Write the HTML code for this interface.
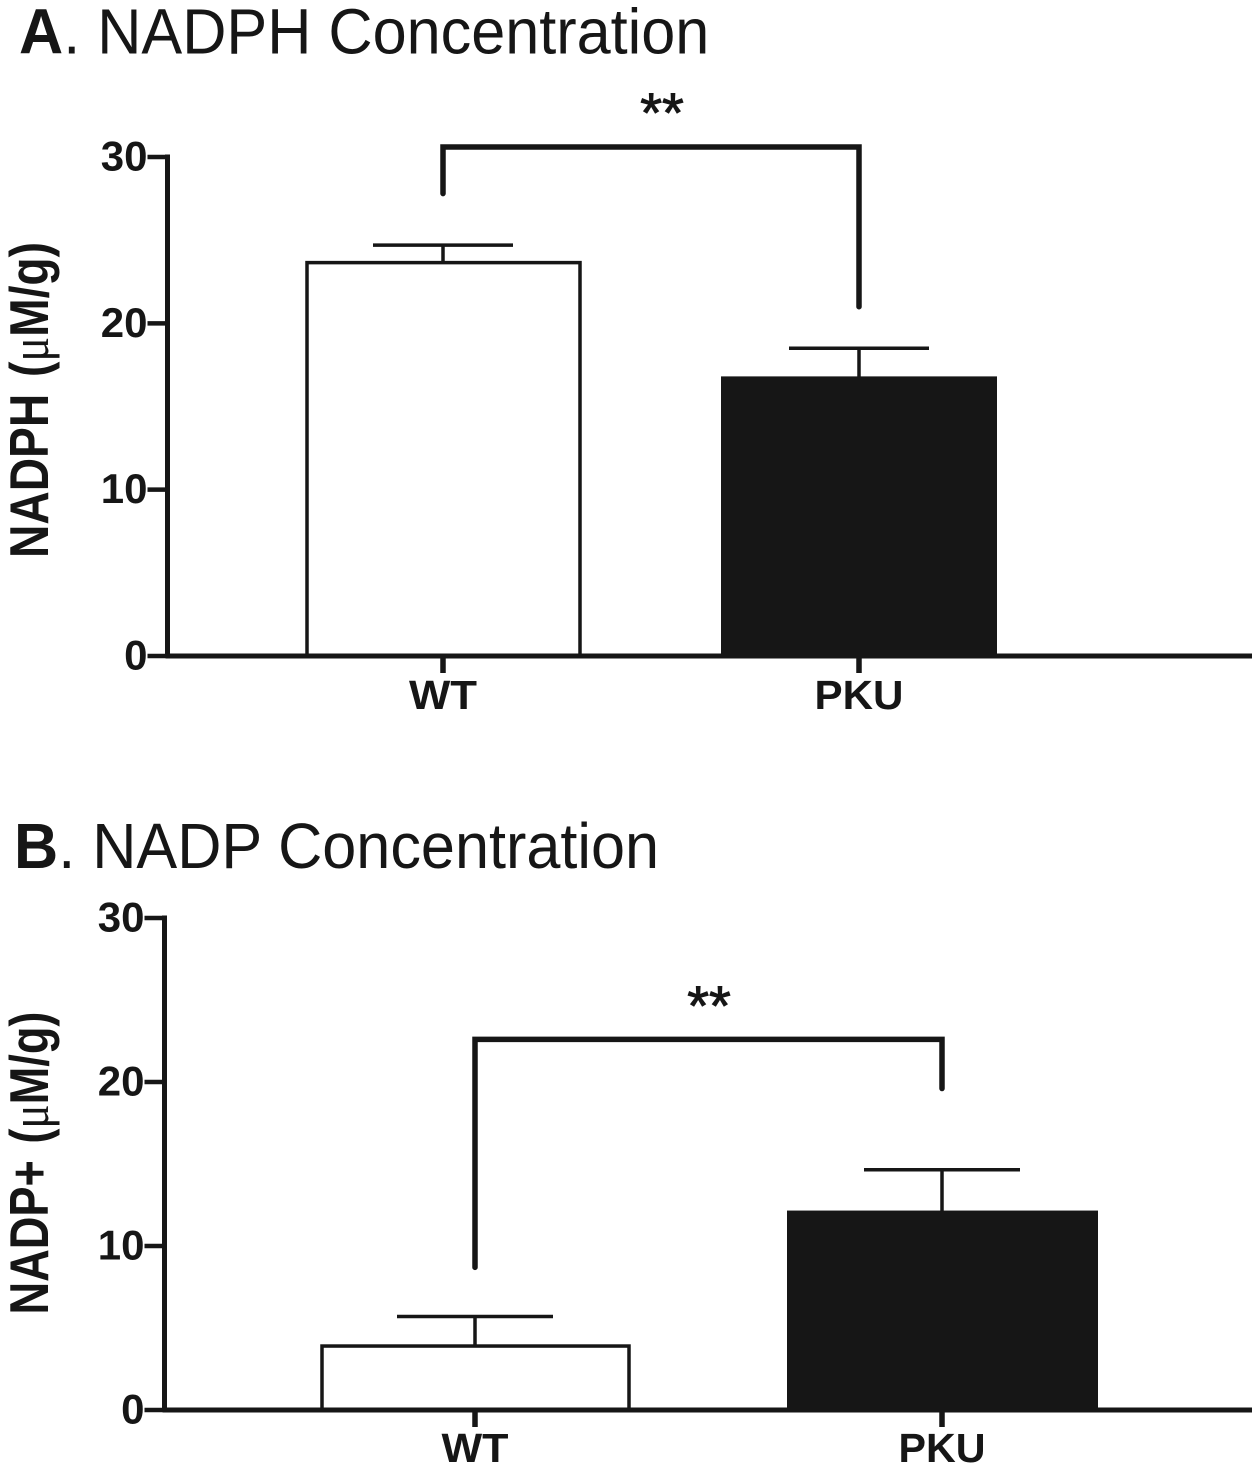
<!DOCTYPE html>
<html>
<head>
<meta charset="utf-8">
<style>
html,body{margin:0;padding:0;background:#fff;}
svg{display:block;}
text{font-family:"Liberation Sans",sans-serif;fill:#161616;}
.t{font-weight:bold;font-size:42px;}
.c{font-weight:bold;font-size:41px;}
.title{font-size:61.2px;}
.ax{font-weight:bold;font-size:46px;word-spacing:4px;}
.mu{font-family:"Liberation Serif",serif;font-weight:normal;}
.stars{font-weight:normal;font-size:56px;stroke:#161616;stroke-width:1;}
</style>
</head>
<body>
<svg id="chart" width="1260" height="1470" viewBox="0 0 1260 1470" xmlns="http://www.w3.org/2000/svg">
<text transform="translate(19 53.5) scale(1 1.04)" class="title"><tspan font-weight="bold">A</tspan>. NADPH Concentration</text>
<text transform="translate(14 868) scale(1 1.04)" class="title"><tspan font-weight="bold">B</tspan>. NADP Concentration</text>
<g id="panelA"></g>
<g id="panelB"></g>
</svg>
<script>
const categories = ['WT', 'PKU'];
const tickLabels = [0, 10, 20, 30];
const nadphMeans = [23.65, 16.75];
const nadphErrors = [1.05, 1.75];
const nadpMeans = [3.9, 12.1];
const nadpErrors = [1.8, 2.55];
const nadphBracket = [27.8, 30.6, 21.0];
const nadpBracket = [8.7, 22.6, 19.6];
const NS = 'http://www.w3.org/2000/svg';
const ink = '#161616';
function mk(parent, tag, attrs, txt) {
  const e = document.createElementNS(NS, tag);
  for (const k in attrs) e.setAttribute(k, attrs[k]);
  if (txt !== undefined) e.textContent = txt;
  parent.appendChild(e);
  return e;
}
function draw(parent, cfg) {
  const y = v => cfg.y0 + (cfg.y30 - cfg.y0) * v / 30;
  cfg.means.forEach((m, i) => {
    const b = cfg.bars[i];
    const cx = cfg.centers[i];
    const err = mk(parent, 'path', {d: `M${cx} ${y(m)}V${y(m + cfg.errs[i])}M${cx - cfg.cap} ${y(m + cfg.errs[i])}H${cx + cfg.cap}`, stroke: ink, 'stroke-width': 3.5, fill: 'none'});
    
    
    const r = mk(parent, 'rect', {x: b[0], y: y(m), width: b[1] - b[0], height: cfg.y0 - y(m), fill: i ? ink : '#fff', stroke: ink, 'stroke-width': i ? 2 : 3.5});
    
    
    const l = mk(parent, 'text', {x: cfg.labelX[i], y: cfg.labelY, 'text-anchor': 'middle', class: 'c', textLength: cfg.labelLen[i], lengthAdjust: 'spacingAndGlyphs'}, categories[i]);
    
    
  });
  const axis = mk(parent, 'path', {d: `M${cfg.ax} ${y(30) - 2.5}V${cfg.y0}M${cfg.ax - 2} ${cfg.y0}H1252`, stroke: ink, 'stroke-width': 5, fill: 'none'});
  
  
  tickLabels.forEach(v => {
    const t = mk(parent, 'line', {x1: cfg.ax - 20, x2: cfg.ax, y1: y(v), y2: y(v), stroke: ink, 'stroke-width': 4.5});
    
    
    const l = mk(parent, 'text', {x: cfg.ax - 20, y: y(v) + 13.5, 'text-anchor': 'end', class: 't'}, v);
    
    
  });
  cfg.centers.forEach((cx, i) => {
    const t = mk(parent, 'line', {x1: cx, x2: cx, y1: cfg.y0, y2: cfg.y0 + 17, stroke: ink, 'stroke-width': 5.5});
    
    
  });
  const c = cfg.centers;
  const br = mk(parent, 'path', {d: `M${c[0]} ${y(cfg.bracket[0])}V${y(cfg.bracket[1])}H${c[1]}V${y(cfg.bracket[2])}`, stroke: ink, 'stroke-width': 5.5, fill: 'none', 'stroke-linecap': 'round', 'stroke-linejoin': 'miter'});
  
  
  const s = mk(parent, 'text', {x: cfg.starX, y: cfg.starY, 'text-anchor': 'middle', class: 'stars'}, '**');
  
  
  const yt = mk(parent, 'text', {transform: `translate(48 ${cfg.titleY}) rotate(-90) scale(1 1.18)`, 'text-anchor': 'middle', class: 'ax', textLength: cfg.titleLen, lengthAdjust: 'spacingAndGlyphs'});
  
  
  mk(yt, 'tspan', {}, cfg.title + ' (');
  mk(yt, 'tspan', {class: 'mu'}, '\u03BC');
  mk(yt, 'tspan', {}, 'M/g)');
}
draw(document.getElementById('panelA'), {
  y0: 656, y30: 157, ax: 167.5, cap: 70,
  bars: [[307, 580], [722, 996]], centers: [443, 859], labelX: [443, 859], labelLen: [68, 89], labelY: 709,
  means: nadphMeans, errs: nadphErrors, bracket: nadphBracket,
  starX: 662, starY: 132, title: 'NADPH', titleY: 400, titleLen: 316
});
draw(document.getElementById('panelB'), {
  y0: 1410, y30: 918, ax: 164.5, cap: 78,
  bars: [[322, 629], [788, 1097]], centers: [475, 942], labelX: [475, 942], labelLen: [67, 87], labelY: 1462,
  means: nadpMeans, errs: nadpErrors, bracket: nadpBracket,
  starX: 709, starY: 1025, title: 'NADP+', titleY: 1163, titleLen: 303
});
</script>
</body>
</html>
